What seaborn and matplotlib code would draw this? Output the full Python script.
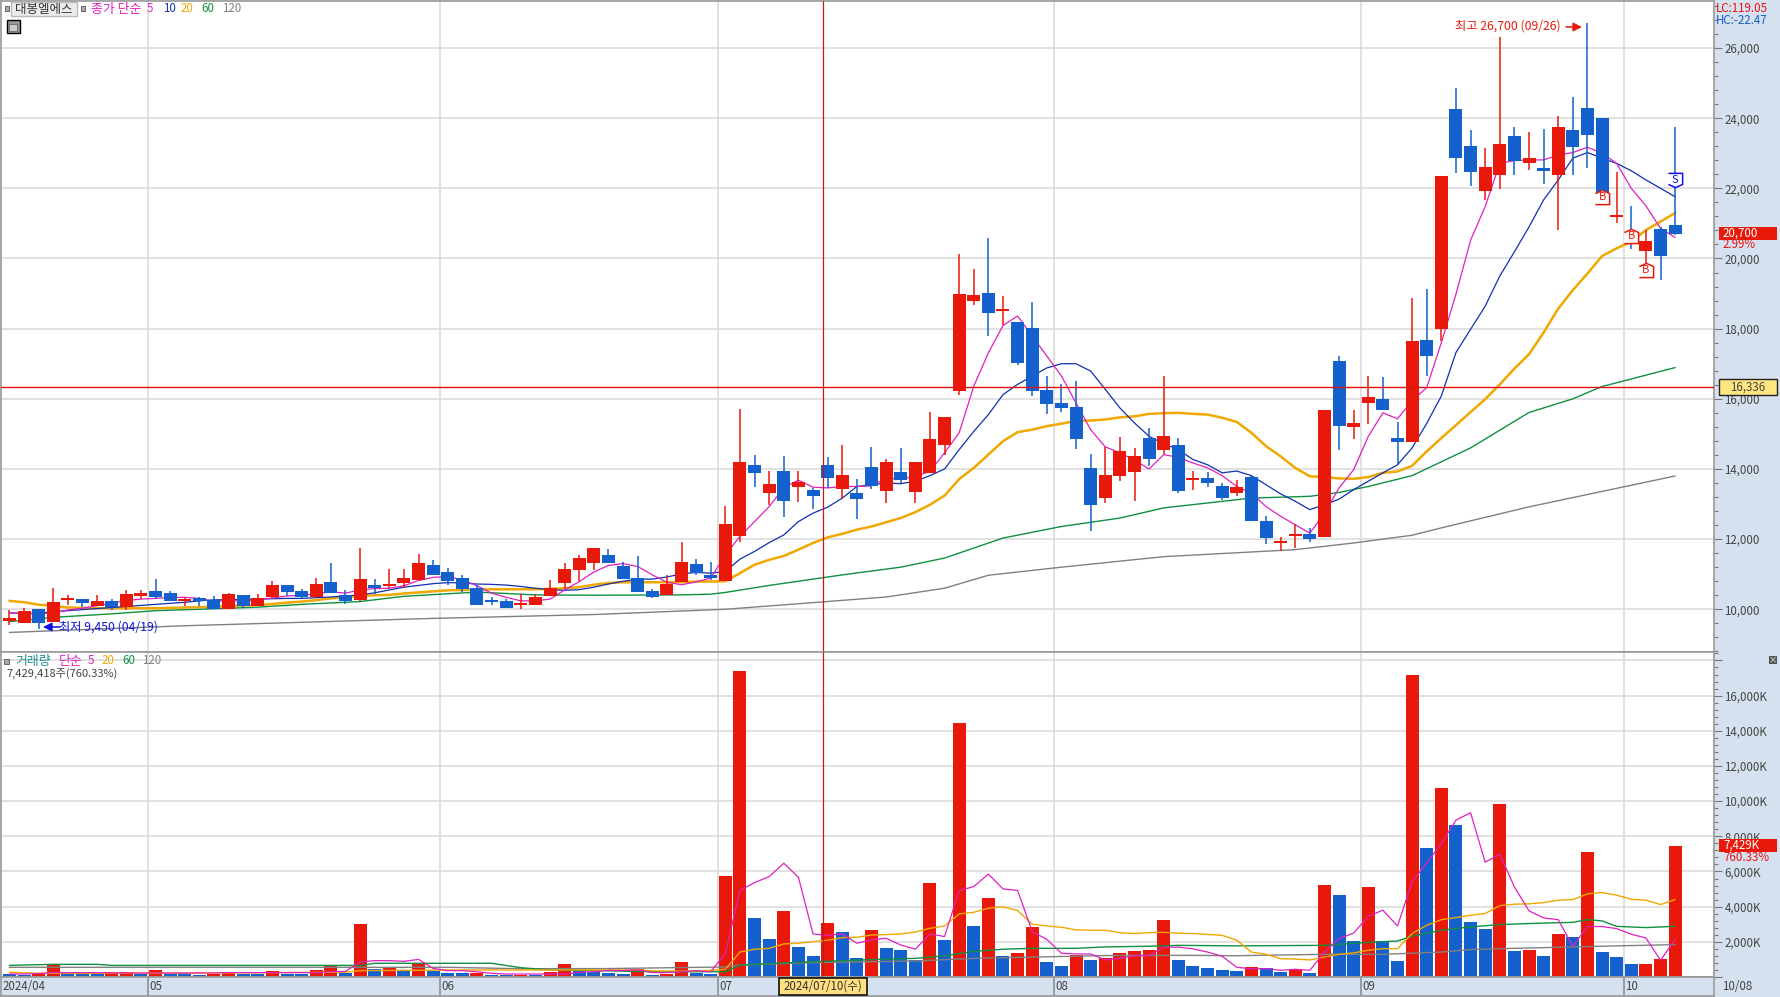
import numpy as np
import pandas as pd
import matplotlib.pyplot as plt
from matplotlib.patches import Rectangle
from matplotlib.ticker import MultipleLocator, FuncFormatter
import seaborn as sns

# daily candles, oldest first
open_ = [9700,9610,10010,9640,10280,10300,10100,10240,10070,10420,
         10520,10470,10260,10290,10260,10010,10410,10100,10350,10700,
         10520,10350,10780,10410,10270,10660,10670,10750,10840,11270,
         11070,10890,10610,10270,10240,10150,10120,10380,10750,11130,
         11330,11550,11240,10900,10530,10410,10780,11300,10980,10810,
         12100,14120,13320,13950,13490,13410,14120,13440,13320,14070,
         13380,13920,13350,13890,14690,16210,18780,19010,18520,18180,
         18010,16240,15870,15780,14040,13180,13810,13920,14890,14550,
         14690,13700,13750,13520,13320,13780,12520,11920,12110,12150,
         12070,17070,15210,15890,15980,14890,14780,17670,17980,24270,
         23210,21920,22380,23500,22720,22550,22380,23670,24300,24010,
         21180,20470,20210,20840,20950]
close = [9710,9950,9610,10210,10290,10180,10240,10070,10440,10430,
         10350,10240,10270,10260,10010,10440,10100,10320,10700,10500,
         10350,10720,10470,10240,10870,10640,10720,10890,11320,10980,
         10810,10580,10120,10210,10040,10160,10350,10610,11150,11470,
         11750,11330,10870,10500,10360,10730,11350,11040,10900,12440,
         14210,13890,13580,13090,13620,13240,13750,13840,13150,13520,
         14210,13690,14210,14840,15490,18980,18950,18440,18530,17010,
         16210,15840,15750,14840,12980,13840,14520,14380,14290,14950,
         13380,13710,13610,13180,13490,12520,12040,11930,12120,12010,
         15670,15220,15320,16060,15670,14780,17640,17210,22350,22870,
         22470,22610,23270,22780,22870,22520,23750,23180,23520,21870,
         21240,20410,20500,20070,20700]
high = [9980,10030,10010,10610,10410,10300,10410,10290,10550,10550,
        10870,10520,10340,10340,10380,10470,10410,10440,10810,10700,
        10580,10890,11320,10550,11750,10870,11150,11150,11580,11410,
        11180,10980,10700,10350,10300,10440,10440,10840,11320,11550,
        11750,11720,11350,11520,10580,10980,11920,11440,11350,12950,
        15720,14410,13950,14380,13950,13470,14350,14670,13720,14640,
        14290,14610,14210,15610,15490,20120,19690,20580,18920,18180,
        18750,16660,16410,16520,14440,14640,14920,14610,15180,16660,
        14890,13950,13920,13610,13690,13840,12670,12070,12440,12320,
        15670,17210,15670,16660,16610,15350,18860,19120,22350,24870,
        23670,23150,26320,23750,23610,23700,24070,24610,26700,24010,
        22470,21500,20810,20900,23750]
low = [9550,9610,9450,9640,10120,10060,10100,9980,9980,10300,
       10290,10240,10100,10100,10010,10010,10040,10100,10320,10380,
       10290,10320,10470,10150,10240,10440,10600,10610,10840,10980,
       10700,10500,10120,10120,10040,10010,10120,10380,10580,10810,
       11130,11330,10870,10500,10330,10410,10780,10980,10840,10810,
       11930,13490,12980,12640,13070,12870,13460,13150,12580,13440,
       13040,13600,13040,13890,14410,16120,18660,17780,18090,16950,
       16090,15580,15610,14580,12240,13040,13670,13090,14090,14440,
       13320,13390,13490,13120,13240,12520,11870,11670,11750,11920,
       12070,14530,14840,15290,15670,14120,14780,16660,17640,22440,
       22070,21670,21980,22380,22520,22120,20810,22380,22580,21870,
       21010,20270,19860,19380,20670]

# price moving averages
ma5 = [9900,9870,9880,9890,9980,10030,10100,10170,10250,10290,
       10310,10340,10340,10310,10220,10250,10220,10270,10320,10380,
       10400,10440,10500,10460,10550,10590,10600,10670,10820,10910,
       10930,10840,10670,10460,10340,10240,10240,10290,10550,10790,
       11060,11250,11300,11220,10980,10770,10700,10780,10890,11550,
       12080,12500,12930,13460,13680,13480,13460,13500,13500,13520,
       13740,13710,13790,13930,14460,15030,16360,17310,18090,18360,
       17790,17220,16650,15880,15120,14630,14460,14250,14000,14410,
       14330,14170,14030,13810,13500,13310,12930,12650,12410,12170,
       12740,13460,13980,14930,15600,15430,15950,16320,17600,18980,
       20520,21480,22710,22790,22810,22810,22950,23020,23170,23000,
       22710,22000,21500,20860,20600]
ma10 = [9900,9880,9890,9930,9960,9990,10020,10050,10080,10110,
        10140,10170,10200,10240,10270,10270,10280,10290,10300,10310,
        10310,10330,10350,10380,10410,10470,10550,10630,10680,10730,
        10760,10750,10720,10710,10690,10650,10600,10560,10540,10560,
        10630,10720,10800,10860,10860,10920,11010,11050,11030,11080,
        11430,11650,11900,12120,12500,12740,12910,13170,13500,13550,
        13600,13580,13650,13810,14000,14550,15070,15550,16120,16410,
        16650,16880,17000,17000,16790,16270,15740,15310,14930,14720,
        14550,14270,14120,13890,13940,13810,13550,13290,13080,12840,
        12980,13140,13410,13650,13890,14120,14600,15300,16080,17320,
        17980,18640,19500,20190,20900,21670,22240,22860,23020,22860,
        22710,22500,22240,22000,21760]
ma20 = [10240,10200,10130,10100,10050,10040,10030,10030,10030,10030,
        10030,10040,10050,10060,10080,10090,10110,10120,10150,10190,
        10220,10260,10310,10350,10380,10400,10410,10450,10480,10510,
        10540,10550,10560,10570,10570,10570,10570,10580,10600,10630,
        10700,10750,10770,10770,10770,10770,10770,10790,10790,10800,
        11030,11270,11410,11520,11700,11890,12050,12150,12270,12360,
        12480,12600,12770,12980,13240,13710,14030,14410,14790,15050,
        15120,15220,15290,15370,15380,15410,15470,15500,15570,15590,
        15600,15570,15550,15460,15340,15030,14650,14360,14030,13790,
        13770,13730,13720,13770,13890,13930,14090,14500,14880,15250,
        15620,15990,16410,16860,17270,17890,18570,19100,19570,20070,
        20290,20480,20810,21050,21300]
ma60_days = [0,3,7,10,13,17,20,24,27,32,36,40,46,48,49,52,55,57,61,64,68,72,76,79,82,85,89,91,93,96,100,104,107,109,114]
ma60 = [9650,9770,9870,9960,10000,10060,10140,10220,10370,10490,10410,10400,10410,10430,10480,10680,10860,10980,11200,11460,
        12030,12360,12600,12890,13030,13170,13220,13330,13500,13810,14600,15610,16000,16350,16890]
ma120_days = [0,12,29,40,49,55,60,64,67,72,79,88,92,96,98,104,114]
ma120 = [9340,9530,9740,9850,10000,10190,10350,10600,10970,11200,11500,11700,11890,12110,12320,12920,13800]

# volume in thousands of shares
volume = [170,115,190,700,170,170,170,270,280,170,
          400,170,170,110,170,280,150,150,340,170,
          170,400,630,210,3020,460,490,340,780,340,
          230,230,230,110,110,110,110,280,740,340,
          300,230,170,460,110,170,850,230,170,5750,
          17420,3360,2160,3760,1710,1200,3070,2560,1080,2680,
          1650,1540,970,5350,2110,14460,2900,4500,1200,1370,
          2850,850,630,1250,970,1080,1370,1480,1540,3250,
          970,610,490,380,320,550,490,270,440,210,
          5220,4650,2030,5110,2030,890,17180,7350,10760,8650,
          3110,2710,9850,1460,1520,1180,2430,2260,7100,1400,
          1120,720,720,1020,7429]
volume_dir = list("bbrrbbbrrb" "rbbbrrbbrb" "brrbrbrbrb" "bbrbbrbrrb" "bbbrbrrbbr"
                  "rbbrbbrbbr" "bbbrbrbrbr" "rbbrbrrrrr" "bbbbbrbbrb" "rbbrbbrbrb"
                  "bbrbrbrbrb" "bbrrr")
vol_ma5 = [170,170,200,250,250,250,250,230,230,230,
           230,230,230,230,230,250,250,250,250,250,
           250,250,300,320,850,930,930,890,1000,490,
           360,360,300,210,170,170,170,170,170,270,
           300,380,370,400,250,250,300,360,300,1350,
           4920,5370,5710,6470,5670,2450,2370,2450,1920,2110,
           2200,1820,1580,2450,2300,4920,5140,5850,5010,4920,
           2580,2140,1350,1310,1310,970,1060,1200,1230,1690,
           1700,1600,1420,1180,550,470,470,380,440,380,
           1420,2180,2500,3450,3800,2900,5410,6490,7590,8920,
           9340,6530,6980,5120,3760,3360,3260,1750,2870,2870,
           2750,2430,2220,950,2130]
vol_ma20 = [270,240,210,210,210,210,210,210,220,220,
            220,220,220,230,230,230,240,240,250,250,
            260,260,270,270,360,370,370,380,380,390,
            400,400,400,400,400,400,400,400,400,400,
            400,400,400,400,350,340,330,350,380,440,
            1420,1580,1630,1880,1920,2010,2090,2240,2260,2390,
            2410,2450,2560,2770,2900,3590,3680,3910,3990,3780,
            3000,2900,2830,2680,2660,2660,2520,2470,2520,2540,
            2490,2470,2420,2370,2090,1420,1290,1040,1020,970,
            1140,1290,1370,1520,1610,1610,2470,2940,3260,3380,
            3510,3610,4060,4140,4160,4230,4370,4400,4730,4800,
            4650,4420,4370,4120,4400]
vol_ma60_days = [0,3,6,7,24,25,33,35,37,41,44,49,50,52,55,60,62,64,66,68,70,73,75,78,80,84,90,93,95,96,98,100,102,104,107,108,109,110,112,114]
vol_ma60 = [660,720,720,660,660,780,780,530,400,350,300,300,680,760,870,1020,1060,1200,1460,1580,
            1630,1630,1710,1750,1800,1770,1800,1970,2050,2320,2660,2850,2980,3040,3110,3260,3190,2880,2810,2880]
vol_ma120_days = [0,30,35,41,49,50,55,62,66,75,81,84,90,94,98,100,102,105,110,114]
vol_ma120 = [550,550,470,480,570,680,820,910,1060,1220,1230,1210,1290,1290,1420,1560,1610,1670,1770,1840]

month_days = [9.5, 29.5, 48.5, 71.5, 92.5, 110.5]
month_labels = ['05', '06', '07', '08', '09', '10']

W, H = 1780, 997
RED, BLUE = '#e8190a', '#1460cc'
PINK, NAVY, ORANGE, GREEN, GRAY = '#e020c0', '#1030b0', '#f0a800', '#109040', '#808080'
BAND = '#d6e1ef'
GRID = '#d8d8d8'
FRAME = '#999999'
INK = '#444444'

sns.set_theme(style='white')
plt.rcParams['font.family'] = ['Noto Sans CJK KR', 'DejaVu Sans']
plt.rcParams['font.size'] = 8


def px_axes(fig, left, top, right, bottom):
    return fig.add_axes([left / W, 1 - bottom / H, (right - left) / W, (bottom - top) / H])


def px_text(fig, x, y, s, **kw):
    kw.setdefault('va', 'center')
    kw.setdefault('ha', 'left')
    kw.setdefault('fontsize', 8)
    kw.setdefault('zorder', 5)
    fig.text(x / W, 1 - y / H, s, **kw)


def px_box(fig, left, top, right, bottom, fc, ec='none', lw=1):
    fig.add_artist(Rectangle((left / W, 1 - bottom / H), (right - left) / W, (bottom - top) / H,
                             transform=fig.transFigure, facecolor=fc, edgecolor=ec, linewidth=lw, zorder=2))


def style_axis(ax, major, minor, fmt):
    ax.set_facecolor('white')
    ax.yaxis.tick_right()
    ax.yaxis.set_major_locator(MultipleLocator(major))
    ax.yaxis.set_minor_locator(MultipleLocator(minor))
    ax.yaxis.set_major_formatter(FuncFormatter(fmt))
    ax.tick_params(axis='y', which='major', right=True, length=6, width=0.8, color='#777777',
                   labelcolor=INK, labelsize=8.3, pad=1.5)
    ax.tick_params(axis='y', which='minor', right=True, length=3, width=0.8, color='#777777')
    ax.set_xticks(month_days)
    ax.set_xticklabels([])
    ax.tick_params(axis='x', length=0)
    ax.grid(True, which='major', color=GRID, linewidth=1.1)
    ax.set_axisbelow(True)
    ax.set_xlabel('')
    ax.set_ylabel('')
    for spine in ax.spines.values():
        spine.set_color(FRAME)
        spine.set_linewidth(1.2)


def draw_candles(ax):
    days = np.arange(len(open_))
    o, c = np.array(open_), np.array(close)
    colors = [RED if up else BLUE for up in c >= o]
    ax.vlines(days, low, high, colors=colors, linewidth=1.1, zorder=4)
    # one-tick days still show as a thin slab
    height = np.maximum(np.abs(c - o), 65)
    ax.bar(days, height, bottom=(o + c) / 2 - height / 2, width=0.89, color=colors, linewidth=0, zorder=5)


def signal_tag(ax, day, price, label, color, verts):
    ax.scatter([day], [price], marker=verts, s=105, facecolor='white', edgecolor=color, linewidth=1.1, zorder=6)
    ax.text(day, price, label, color=color, fontsize=8, ha='center', va='center', zorder=7)


def note_arrow(ax, x_from, x_to, y, color):
    ax.annotate('', xy=(x_to / W, 1 - y / H), xytext=(x_from / W, 1 - y / H), xycoords='figure fraction',
                textcoords='figure fraction',
                arrowprops=dict(arrowstyle='-|>', color=color, lw=1.1, mutation_scale=13, shrinkA=0, shrinkB=0))


fig = plt.figure(figsize=(W / 100, H / 100), dpi=100, facecolor=BAND)
ax_price = px_axes(fig, 1, 1, 1714, 652)
ax_vol = px_axes(fig, 1, 652, 1714, 977)
ax_date = px_axes(fig, 1, 977, 1714, 996)

# price panel
style_axis(ax_price, 2000, 400, lambda v, _: f'{int(v):,}')
days = np.arange(len(close))
for series, x, color, lw in [(ma120, ma120_days, GRAY, 1.0), (ma60, ma60_days, GREEN, 1.0),
                             (ma20, days, ORANGE, 1.8), (ma10, days, NAVY, 0.9), (ma5, days, PINK, 0.9)]:
    sns.lineplot(x=x, y=series, color=color, linewidth=lw, estimator=None, ax=ax_price, zorder=3)
draw_candles(ax_price)
ax_price.axhline(16336, color='#e01010', linewidth=1, zorder=6)
ax_price.axvline(55.7, color='#c01818', linewidth=0.9, zorder=6)

up_tag = [(-1, -1), (1, -1), (1, 0.55), (0, 1), (-1, 0.55)]
down_tag = [(-1, 1), (1, 1), (1, -0.55), (0, -1), (-1, -0.55)]
signal_tag(ax_price, 109, 21750, 'B', RED, up_tag)
signal_tag(ax_price, 111, 20640, 'B', RED, up_tag)
signal_tag(ax_price, 112, 19670, 'B', RED, up_tag)
signal_tag(ax_price, 114, 22240, 'S', '#1010e0', down_tag)

ax_price.set_xlim(-0.575, 116.66)
ax_price.set_ylim(8782, 27340)

# volume panel
style_axis(ax_vol, 2000, 400, lambda v, _: f'{int(v):,}K' if 0 < v <= 16000 else '')
df_vol = pd.DataFrame({'day': days, 'volume': volume, 'dir': volume_dir})
sns.barplot(data=df_vol, x='day', y='volume', hue='dir', palette={'r': RED, 'b': BLUE}, native_scale=True,
            dodge=False, width=0.89, saturation=1, errorbar=None, legend=False, linewidth=0, ax=ax_vol, zorder=2)
for series, x, color, lw in [(vol_ma120, vol_ma120_days, GRAY, 1.0), (vol_ma60, vol_ma60_days, GREEN, 1.0),
                             (vol_ma20, days, ORANGE, 1.0), (vol_ma5, days, PINK, 0.9)]:
    sns.lineplot(x=x, y=series, color=color, linewidth=lw, estimator=None, ax=ax_vol, zorder=3)
ax_vol.axvline(55.7, color='#c01818', linewidth=0.9, zorder=6)
ax_vol.set_xlim(-0.575, 116.66)
ax_vol.set_ylim(0, 18480)
ax_vol.set_xlabel('')
ax_vol.set_ylabel('')

# date strip
ax_date.set_facecolor(BAND)
ax_date.set_xlim(-0.575, 116.66)
ax_date.set_ylim(0, 1)
ax_date.set_xticks([])
ax_date.set_yticks([])
for spine in ax_date.spines.values():
    spine.set_color(FRAME)
    spine.set_linewidth(1.2)
ax_date.vlines(month_days, 0, 1, color='#888888', linewidth=1.1)
ax_date.text(-0.45, 0.5, '2024/04', color=INK, fontsize=8.3, va='center')
for d, lab in zip(month_days, month_labels):
    ax_date.text(d + 0.08, 0.5, lab, color=INK, fontsize=8.3, va='center')
px_text(fig, 1722, 986, '10/08', color=INK, fontsize=8.3)

px_box(fig, 779, 978, 867, 995, '#ffdf80', ec='black', lw=1.1)
px_text(fig, 823, 986.5, '2024/07/10(수)', color='#333333', ha='center', fontsize=8.3)

# high / low notes
px_text(fig, 1455, 26, '최고 26,700 (09/26)', color=RED, fontsize=8.8)
note_arrow(ax_price, 1566, 1582, 27, RED)
px_text(fig, 59, 627, '최저 9,450 (04/19)', color='#1010e0', fontsize=8.8)
note_arrow(ax_price, 60, 43, 627, '#1010e0')

# price panel legend
px_box(fig, 5, 6, 9, 11, '#aaaaaa', ec='#666666', lw=0.7)
px_box(fig, 11, 2, 77, 16, '#ececec', ec='#bbbbbb', lw=1)
px_text(fig, 44, 9, '대봉엘에스', color='#333333', ha='center', fontsize=9)
px_box(fig, 81, 6, 85, 11, '#aaaaaa', ec='#666666', lw=0.7)
px_text(fig, 91, 9, '종가 단순', color=PINK, fontsize=9.3)
for x, s, color in [(147, '5', PINK), (163, '10', NAVY), (181, '20', ORANGE), (201, '60', GREEN), (222, '120', GRAY)]:
    px_text(fig, x, 9, s, color=color, fontsize=8.3)
px_box(fig, 6.5, 20.5, 19.5, 33.5, '#999999', ec='black', lw=1)
px_box(fig, 9, 24, 17, 31, '#cccccc', ec='#666666', lw=0.6)

# volume panel legend
px_box(fig, 4, 659, 9, 664, '#aaaaaa', ec='#666666', lw=0.7)
px_text(fig, 15, 661, '거래량', color='#209090', fontsize=9.3)
px_text(fig, 59, 661, '단순', color=PINK, fontsize=9.3)
for x, s, color in [(88, '5', PINK), (102, '20', ORANGE), (122, '60', GREEN), (142, '120', GRAY)]:
    px_text(fig, x, 661, s, color=color, fontsize=8.3)
px_text(fig, 6, 674, '7,429,418주(760.33%)', color=INK)

# right hand readouts
px_text(fig, 1716, 8, 'LC:119.05', color='#f01010', fontsize=8.3)
px_text(fig, 1716, 20, 'HC:-22.47', color=BLUE, fontsize=8.3)
px_box(fig, 1719, 227, 1777, 240, RED)
px_text(fig, 1723, 233.5, '20,700', color='white', fontsize=8.3)
px_text(fig, 1723, 245, '2.99%', color='#f01010', fontsize=8.3)
px_box(fig, 1719, 379.5, 1777, 395, '#ffe680', ec='#222222', lw=1)
px_text(fig, 1748, 387, '16,336', color=INK, ha='center', fontsize=8.3)
px_box(fig, 1719, 839, 1777, 852, RED)
px_text(fig, 1723, 845.5, '7,429K', color='white', fontsize=8.3)
px_text(fig, 1723, 857, '760.33%', color='#f01010', fontsize=8.3)
px_box(fig, 1769, 656, 1777, 664, '#555555')
px_text(fig, 1773, 659.5, '×', color='white', ha='center', fontsize=6)

plt.savefig('out.png', dpi=100, facecolor=fig.get_facecolor())
